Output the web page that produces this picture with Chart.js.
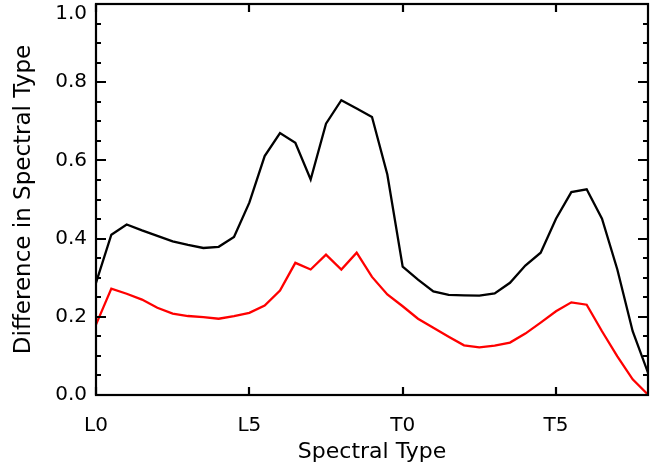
<!DOCTYPE html>
<html>
<head>
<meta charset="utf-8">
<script src="https://cdn.jsdelivr.net/npm/chart.js@4.4.1/dist/chart.umd.min.js"></script>
<style>
    html, body { margin: 0; padding: 0; background: #fff; }
</style>
</head>
<body>
<canvas id="diff-chart" width="665" height="468"></canvas>
<script>
// Spectral type on a numeric axis: L0 = 0, L5 = 5, T0 = 10, T5 = 15
const spectralType = [
    0, 0.5, 1, 1.5, 2, 2.5, 3, 3.5, 4, 4.5,
    5, 5.5, 6, 6.5, 7, 7.5, 8, 8.5, 9, 9.5,
    10, 10.5, 11, 11.5, 12, 12.5, 13, 13.5, 14, 14.5,
    15, 15.5, 16, 16.5, 17, 17.5, 18
];

// upper (black) curve
const diffBlack = [
    0.287, 0.410, 0.436, 0.421, 0.407, 0.393, 0.384, 0.376, 0.379, 0.404,
    0.492, 0.611, 0.670, 0.645, 0.551, 0.694, 0.754, 0.733, 0.711, 0.564,
    0.328, 0.295, 0.265, 0.256, 0.255, 0.254, 0.260, 0.287, 0.331, 0.364,
    0.451, 0.519, 0.526, 0.451, 0.321, 0.163, 0.057
];

// lower (red) curve
const diffRed = [
    0.180, 0.272, 0.259, 0.244, 0.223, 0.208, 0.202, 0.199, 0.195, 0.202,
    0.210, 0.229, 0.267, 0.338, 0.321, 0.359, 0.321, 0.364, 0.302, 0.257,
    0.227, 0.195, 0.172, 0.149, 0.127, 0.122, 0.126, 0.134, 0.157, 0.185,
    0.214, 0.237, 0.231, 0.163, 0.099, 0.040, 0.001
];

const xTickValues = [0, 5, 10, 15];
const xTickLabels = ['L0', 'L5', 'T0', 'T5'];
const yTickValues = [0, 0.2, 0.4, 0.6, 0.8, 1.0];
const yTickLabels = ['0.0', '0.2', '0.4', '0.6', '0.8', '1.0'];

const FONT = "'DejaVu Sans', sans-serif";

function toPoints(xs, ys) {
    return xs.map((x, i) => ({ x: x, y: ys[i] }));
}

// IDL-style box: frame plus inward tick marks on all four sides
const boxAxes = {
    id: 'boxAxes',
    afterDatasetsDraw(chart) {
        const { ctx, chartArea: a, scales } = chart;
        const xs = scales.x;
        const ys = scales.y;
        ctx.save();
        ctx.strokeStyle = '#000';
        ctx.lineWidth = 2.2;
        ctx.lineCap = 'butt';
        ctx.strokeRect(a.left, a.top, a.right - a.left, a.bottom - a.top);

        ctx.beginPath();
        // y minor ticks every 0.05, major at labelled values
        for (let k = 0; k <= 20; k++) {
            const v = k * 0.05;
            const py = Math.round(ys.getPixelForValue(v));
            const len = (k % 4 === 0) ? 10 : 5;
            ctx.moveTo(a.left, py);
            ctx.lineTo(a.left + len, py);
            ctx.moveTo(a.right, py);
            ctx.lineTo(a.right - len, py);
        }
        // x major ticks
        xTickValues.forEach(v => {
            const px = Math.round(xs.getPixelForValue(v));
            ctx.moveTo(px, a.bottom);
            ctx.lineTo(px, a.bottom - 8);
            ctx.moveTo(px, a.top);
            ctx.lineTo(px, a.top + 8);
        });
        ctx.stroke();
        ctx.restore();
    }
};

document.addEventListener('DOMContentLoaded', () => {
    const ctx = document.getElementById('diff-chart').getContext('2d');

    new Chart(ctx, {
        type: 'line',
        data: {
            datasets: [{
                label: 'Black',
                data: toPoints(spectralType, diffBlack),
                borderColor: '#000000',
                backgroundColor: 'transparent',
                borderWidth: 2.3,
                pointRadius: 0,
                tension: 0
            }, {
                label: 'Red',
                data: toPoints(spectralType, diffRed),
                borderColor: '#ff0000',
                backgroundColor: 'transparent',
                borderWidth: 2.3,
                pointRadius: 0,
                tension: 0
            }]
        },
        options: {
            responsive: false,
            animation: false,
            devicePixelRatio: 1,
            layout: {
                padding: { top: 4, right: 17, bottom: 0, left: 0 }
            },
            plugins: {
                legend: { display: false },
                tooltip: { enabled: false }
            },
            scales: {
                x: {
                    type: 'linear',
                    min: 0,
                    max: 18,
                    border: { display: false },
                    grid: { display: false, drawTicks: false },
                    afterBuildTicks: (scale) => {
                        scale.ticks = xTickValues.map(v => ({ value: v }));
                    },
                    afterFit: (scale) => {
                        scale.height = 73;
                        scale.paddingLeft = 0;
                        scale.paddingRight = 0;
                    },
                    ticks: {
                        autoSkip: false,
                        maxRotation: 0,
                        padding: 19,
                        color: '#000',
                        font: { family: FONT, size: 20 },
                        callback: (value) => {
                            const i = xTickValues.indexOf(value);
                            return i >= 0 ? xTickLabels[i] : '';
                        }
                    },
                    title: {
                        display: true,
                        text: 'Spectral Type',
                        color: '#000',
                        font: { family: FONT, size: 22 },
                        padding: { top: 0, bottom: 3 }
                    }
                },
                y: {
                    type: 'linear',
                    min: 0,
                    max: 1,
                    border: { display: false },
                    grid: { display: false, drawTicks: false },
                    afterBuildTicks: (scale) => {
                        scale.ticks = yTickValues.map(v => ({ value: v }));
                    },
                    afterFit: (scale) => {
                        scale.width = 96;
                        scale.paddingTop = 0;
                        scale.paddingBottom = 0;
                    },
                    ticks: {
                        padding: 9,
                        color: '#000',
                        font: { family: FONT, size: 20, lineHeight: 0.95 },
                        callback: (value) => {
                            const i = yTickValues.findIndex(v => Math.abs(v - value) < 1e-9);
                            if (i < 0) return '';
                            // top label sits just below the frame, as in the original
                            return value >= 1 ? ['', yTickLabels[i]] : yTickLabels[i];
                        }
                    },
                    title: {
                        display: true,
                        text: 'Difference in Spectral Type',
                        color: '#000',
                        font: { family: FONT, size: 23 },
                        padding: { top: 10, bottom: 0 }
                    }
                }
            }
        },
        plugins: [boxAxes]
    });
});
</script>
</body>
</html>
